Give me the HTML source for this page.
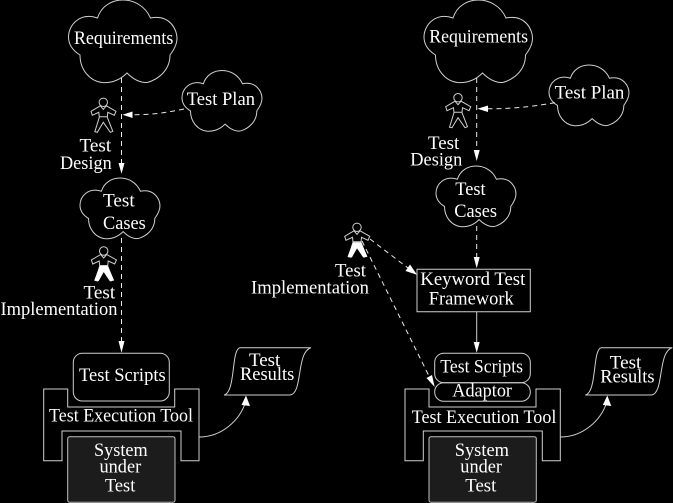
<!DOCTYPE html>
<html><head><meta charset="utf-8"><style>
html,body{margin:0;padding:0;background:#000;width:673px;height:503px;overflow:hidden}
svg{display:block;filter:blur(.3px)}
text{font-family:"Liberation Serif",serif;font-size:18.6px;fill:#fff}
.s{fill:none;stroke:#d0d0d0;stroke-width:1;vector-effect:non-scaling-stroke}
.d{fill:none;stroke:#e8e8e8;stroke-width:1;stroke-dasharray:5 4}
.a{fill:#fff;stroke:none}
</style></head><body>
<svg width="673" height="503" viewBox="0 0 673 503" xmlns="http://www.w3.org/2000/svg">
<defs>
<path id="c" class="s" d="M29,18 C36.5,-6 71.5,-6 82,18 C101.5,14 108.5,30 108.5,38 C108.5,46 103.5,52 101.5,55 C101.5,75 81.5,83 76.5,82.5 C69.5,82 63.5,78 58.5,73 C49.5,82 39.5,83 33.5,82.5 C21.5,81 11.5,70 11.5,55 C3.5,50 0,44 0,37 C0,25 11.5,12 29,18Z"/>
<g id="p"><circle class="s" r="4.2"/><path class="s" d="M-3,3.5 L-12.3,9 L-11,13 L-4.5,10 L-4,15 L-8.5,29.5 L-6,30 L0,20 L7,30 L9.5,29 L4,15 L4.5,10 L11,13 L12.7,9 L3,3.5 L0,7 Z M-4,14.5 H4"/></g>
<path id="l" class="a" d="M-4,15 L-9.5,29.5 L-5,30 L0,21 L6,30 L10.5,29.5 L4,15 Z"/>
<g id="tool">
<path class="s" d="M43.7,389 H67.7 V407 H174.7 V389 H199 V460.7 H181 V431 H62 V460.7 H43.7 Z"/>
<rect x="67.7" y="436.7" width="107.3" height="65.5" rx="2" fill="#1c1c1c" stroke="#c0c0c0"/>
<path class="s" d="M240,347.7 H311 C296,352 303,394 290,395 H224 C236,392 231,349 240,347.7 Z"/>
<path class="s" d="M199,437 C222,437 240,420 245.5,402"/>
<polygon class="a" points="246,395.5 250,406 241.5,405"/>
</g>
</defs>
<rect width="673" height="503" fill="#000"/>

<use href="#c" transform="translate(68.5,0)"/>
<use href="#c" transform="translate(182,70.5) scale(.737,.735)"/>
<use href="#c" transform="translate(80,178) scale(.737,.735)"/>
<use href="#c" transform="translate(424,0)"/>
<use href="#c" transform="translate(549,65) scale(.737,.735)"/>
<use href="#c" transform="translate(436,166) scale(.737,.735)"/>

<use href="#p" transform="translate(103.3,102.3)"/>
<use href="#p" transform="translate(103.7,251)"/><use href="#l" transform="translate(103.7,251)"/>
<use href="#p" transform="translate(458,97.7)"/>
<use href="#p" transform="translate(357,227.3)"/><use href="#l" transform="translate(357,227.3)"/>

<path class="d" d="M121.5,78 V164"/><polygon class="a" points="121.5,173.7 118.5,163 124.5,163"/>
<path class="d" d="M121.5,238 V342"/><polygon class="a" points="121.5,352.7 118.5,341 124.5,341"/>
<path class="d" d="M184,109 C165,113 150,115 131,114.7"/><polygon class="a" points="122.5,114.7 132.5,111.5 132.5,118"/>
<path class="d" d="M476.7,78 V151"/><polygon class="a" points="476.7,161 473.7,150 479.7,150"/>
<path class="d" d="M476.7,226 V258"/><polygon class="a" points="476.7,268.3 473.7,257 479.7,257"/>
<path class="d" d="M555,102.7 C530,107 510,109 487,108.7"/><polygon class="a" points="477.5,108.7 488,105.5 488,112"/>
<path class="d" d="M370,239 L408,268"/><polygon class="a" points="417,274.8 405.5,271 410,264.5"/>
<path class="d" d="M362,241 L429,376"/><polygon class="a" points="434.7,387 426.5,378 432,375"/>

<rect class="s" x="73.3" y="353.3" width="96" height="47.7" rx="9"/>
<use href="#tool"/>
<use href="#tool" transform="translate(361.3,0)"/>
<rect class="s" x="417" y="269.3" width="113.3" height="42.4"/>
<path class="s" d="M476.7,311.7 V343"/><polygon class="a" points="476.7,352.7 473.7,342 479.7,342"/>
<rect class="s" x="434.7" y="353.3" width="95.6" height="29.4" rx="9"/>
<rect class="s" x="434.7" y="382.7" width="95.6" height="18.6" rx="9" fill="#000"/>

<g lengthAdjust="spacingAndGlyphs">
<text x="74" y="44" textLength="99.3" lengthAdjust="spacingAndGlyphs">Requirements</text>
<text x="186.7" y="105" textLength="68.3" lengthAdjust="spacingAndGlyphs">Test Plan</text>
<text x="79.5" y="151.7" textLength="31.7" lengthAdjust="spacingAndGlyphs">Test</text>
<text x="60" y="169" textLength="51.7" lengthAdjust="spacingAndGlyphs">Design</text>
<text x="103" y="206.7" textLength="31.7" lengthAdjust="spacingAndGlyphs">Test</text>
<text x="103" y="229" textLength="42.7" lengthAdjust="spacingAndGlyphs">Cases</text>
<text x="83.5" y="298.7" textLength="31.7" lengthAdjust="spacingAndGlyphs">Test</text>
<text x="0.5" y="315" textLength="117" lengthAdjust="spacingAndGlyphs">Implementation</text>
<text x="79" y="381" textLength="86.7" lengthAdjust="spacingAndGlyphs">Test Scripts</text>
<text x="249" y="366" textLength="31.3" lengthAdjust="spacingAndGlyphs">Test</text>
<text x="240" y="380" textLength="54.3" lengthAdjust="spacingAndGlyphs">Results</text>
<text x="49" y="421.7" textLength="144" lengthAdjust="spacingAndGlyphs">Test Execution Tool</text>
<text x="94" y="456" textLength="53.7" lengthAdjust="spacingAndGlyphs">System</text>
<text x="99.5" y="472.7" textLength="41.7" lengthAdjust="spacingAndGlyphs">under</text>
<text x="105" y="491.7" textLength="30.3" lengthAdjust="spacingAndGlyphs">Test</text>

<text x="429.3" y="42.5" textLength="98.7" lengthAdjust="spacingAndGlyphs">Requirements</text>
<text x="554.7" y="98.7" textLength="69.7" lengthAdjust="spacingAndGlyphs">Test Plan</text>
<text x="428" y="149" textLength="31.3" lengthAdjust="spacingAndGlyphs">Test</text>
<text x="410.3" y="165.7" textLength="52" lengthAdjust="spacingAndGlyphs">Design</text>
<text x="455.3" y="195" textLength="30.3" lengthAdjust="spacingAndGlyphs">Test</text>
<text x="454.3" y="217" textLength="42.7" lengthAdjust="spacingAndGlyphs">Cases</text>
<text x="335" y="276.7" textLength="31" lengthAdjust="spacingAndGlyphs">Test</text>
<text x="251" y="293.3" textLength="118" lengthAdjust="spacingAndGlyphs">Implementation</text>
<text x="420.3" y="285" textLength="105" lengthAdjust="spacingAndGlyphs">Keyword Test</text>
<text x="428.7" y="304.3" textLength="85" lengthAdjust="spacingAndGlyphs">Framework</text>
<text x="440.3" y="372.7" textLength="82.7" lengthAdjust="spacingAndGlyphs">Test Scripts</text>
<text x="452.3" y="396.3" textLength="59.7" lengthAdjust="spacingAndGlyphs">Adaptor</text>
<text x="609.7" y="368.3" textLength="31.7" lengthAdjust="spacingAndGlyphs">Test</text>
<text x="600.3" y="382.3" textLength="54.3" lengthAdjust="spacingAndGlyphs">Results</text>
<text x="411.7" y="423" textLength="144.7" lengthAdjust="spacingAndGlyphs">Test Execution Tool</text>
<text x="454.7" y="456" textLength="54.3" lengthAdjust="spacingAndGlyphs">System</text>
<text x="460.3" y="472.7" textLength="41.7" lengthAdjust="spacingAndGlyphs">under</text>
<text x="465.3" y="491.7" textLength="31" lengthAdjust="spacingAndGlyphs">Test</text>
</g>
</svg>
</body></html>
